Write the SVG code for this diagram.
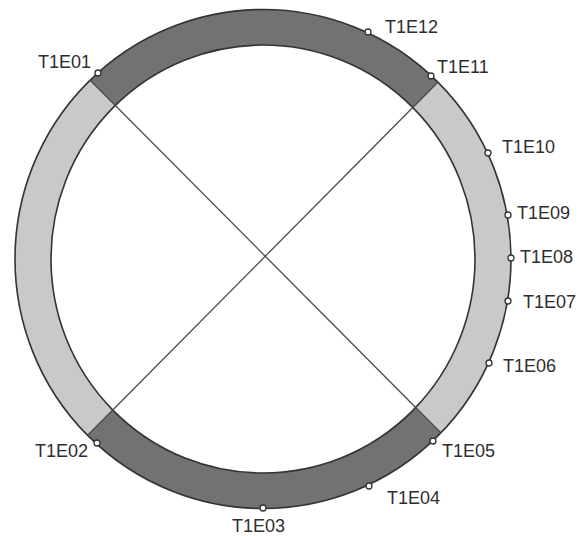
<svg xmlns="http://www.w3.org/2000/svg" width="581" height="536" viewBox="0 0 581 536">
  <style>
    .lbl { font-family: "Liberation Sans", Arial, sans-serif; font-size: 18px; fill: #2e2e2e; }
    .pt { fill: #ffffff; stroke: #333333; stroke-width: 1.3; }
    .edge { fill: none; stroke: #333333; stroke-width: 1.6; }
    .cross { stroke: #4a4a4a; stroke-width: 1.3; fill: none; }
  </style>
  <defs>
    <clipPath id="ringClip">
      <path clip-rule="evenodd" d="M 15,259 A 248,249.5 0 1 0 511,259 A 248,249.5 0 1 0 15,259 Z M 51,259 A 212,214 0 1 0 475,259 A 212,214 0 1 0 51,259 Z"/>
    </clipPath>
    <clipPath id="outerClip">
      <ellipse cx="263" cy="259" rx="248" ry="249.5"/>
    </clipPath>
  </defs>
  <rect width="581" height="536" fill="#ffffff"/>
  <g id="ring">
    <g clip-path="url(#ringClip)">
      <rect x="0" y="0" width="581" height="536" fill="#c9c9c9"/>
      <polygon points="265,257 -50,-61 600,-81" fill="#727272"/>
      <polygon points="265,257 600,593 -50,574" fill="#727272"/>
    </g>
    <ellipse class="edge" cx="263" cy="259" rx="248" ry="249.5"/>
    <ellipse class="edge" cx="263" cy="259" rx="212" ry="214"/>
  </g>
  <g id="connectors" clip-path="url(#outerClip)">
    <line class="cross" x1="82" y1="72" x2="448" y2="440"/>
    <line class="cross" x1="447" y1="73" x2="80" y2="443"/>
  </g>
  <g id="T1E01"><circle class="pt" cx="98" cy="73" r="3"/><text class="lbl" x="38" y="68">T1E01</text></g>
  <g id="T1E12"><circle class="pt" cx="368" cy="32" r="3"/><text class="lbl" x="385" y="33">T1E12</text></g>
  <g id="T1E11"><circle class="pt" cx="431" cy="76" r="3"/><text class="lbl" x="437" y="73">T1E11</text></g>
  <g id="T1E10"><circle class="pt" cx="488" cy="153" r="3"/><text class="lbl" x="502" y="153">T1E10</text></g>
  <g id="T1E09"><circle class="pt" cx="508" cy="215" r="3"/><text class="lbl" x="517" y="219">T1E09</text></g>
  <g id="T1E08"><circle class="pt" cx="511" cy="258" r="3"/><text class="lbl" x="520" y="263">T1E08</text></g>
  <g id="T1E07"><circle class="pt" cx="508" cy="301" r="3"/><text class="lbl" x="523" y="308">T1E07</text></g>
  <g id="T1E06"><circle class="pt" cx="489" cy="363" r="3"/><text class="lbl" x="503" y="372">T1E06</text></g>
  <g id="T1E05"><circle class="pt" cx="433" cy="441" r="3"/><text class="lbl" x="442" y="457">T1E05</text></g>
  <g id="T1E04"><circle class="pt" cx="369" cy="486" r="3"/><text class="lbl" x="387" y="504">T1E04</text></g>
  <g id="T1E03"><circle class="pt" cx="263" cy="508" r="3"/><text class="lbl" x="232" y="532">T1E03</text></g>
  <g id="T1E02"><circle class="pt" cx="97" cy="443" r="3"/><text class="lbl" x="35" y="457">T1E02</text></g>
</svg>
